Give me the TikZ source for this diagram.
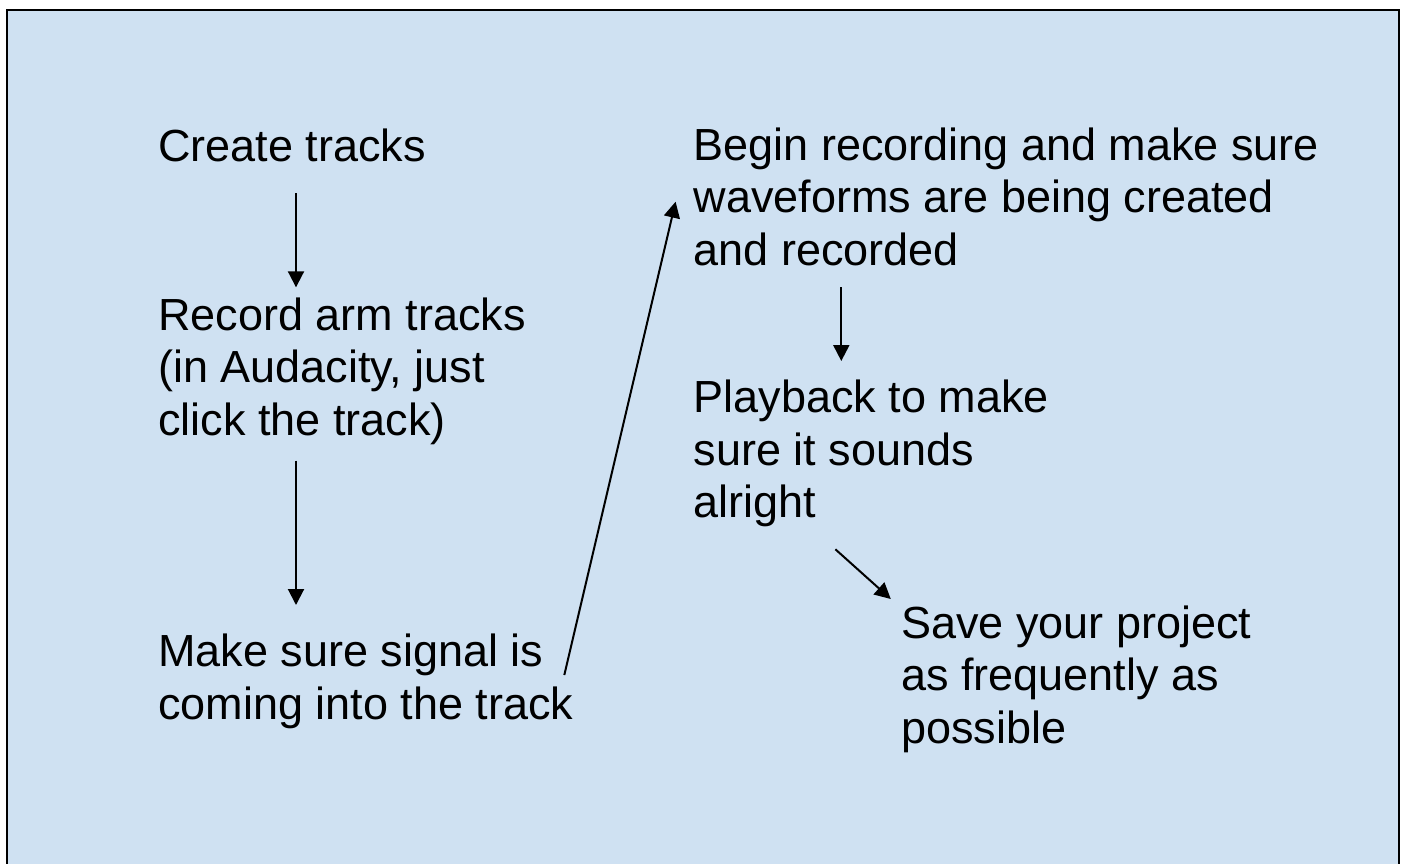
\documentclass[tikz,border=0pt]{standalone}
\usepackage{fontspec}
\setmainfont{Liberation Sans}
\usetikzlibrary{arrows.meta,calc}
\definecolor{panelblue}{RGB}{207,225,242}
\tikzset{
  % multi-line step labels; their base anchor sits on the last line
  steptext/.style={anchor=base west, align=left, inner sep=0pt,
    font=\fontsize{45}{52.5}\selectfont},
  flow/.style={line width=2pt, -{Triangle[length=16pt,width=16pt]}}
}
\begin{document}
\begin{tikzpicture}[x=1pt,y=-1pt]
  \useasboundingbox (0,0) rectangle (1407,863);
  % panel
  \fill[white] (0,0) rectangle (1407,863);
  \draw[line width=2.5pt, fill=panelblue] (7,10) rectangle (1399,900);

  % steps
  \node[steptext] (create)   at (158,161)   {Create tracks};
  \node[steptext] (arm)      at (158,435)   {Record arm tracks\\(in Audacity, just\\click the track)};
  \node[steptext] (signal)   at (158,719.3) {Make sure signal is\\coming into the track};
  \node[steptext] (begin)    at (693.5,265) {Begin recording and make sure\\waveforms are being created\\and recorded};
  \node[steptext] (playback) at (693.5,517.7) {Playback to make\\sure it sounds\\alright};
  \node[steptext] (save)     at (901,743.3) {Save your project\\as frequently as\\possible};

  % connectors
  \draw[flow] ($(create.base west)+(138,32)$) -- ($(arm.base west)+(138,-147.7)$);
  \draw[flow] ($(arm.base west)+(138,25.7)$) -- ($(signal.base west)+(138,-114.3)$);
  \draw[flow] ($(signal.base west)+(406.3,-44.3)$) -- ($(begin.base west)+(-17.9,-63.3)$);
  \draw[flow] ($(begin.base west)+(147.8,22.3)$) -- ($(playback.base west)+(147.8,-156.7)$);
  \draw[flow] ($(playback.base west)+(141.9,31.6)$) -- ($(save.base west)+(-10.2,-144.3)$);
\end{tikzpicture}
\end{document}
